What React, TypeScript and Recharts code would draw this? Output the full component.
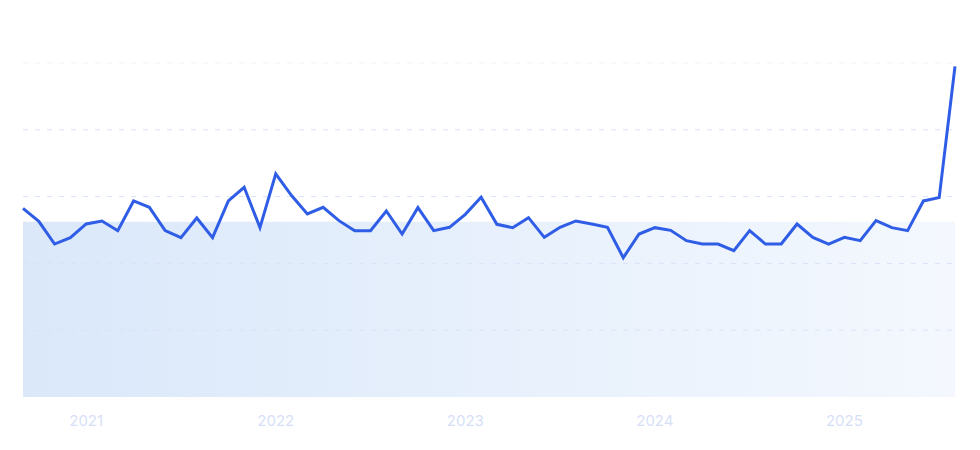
import React from 'react';
import { LineChart, Line, XAxis, YAxis, ReferenceArea, ReferenceLine } from 'recharts';

const months: string[] = [
  '2020-09', '2020-10', '2020-11', '2020-12',
  '2021-01', '2021-02', '2021-03', '2021-04', '2021-05', '2021-06', '2021-07', '2021-08', '2021-09', '2021-10', '2021-11', '2021-12',
  '2022-01', '2022-02', '2022-03', '2022-04', '2022-05', '2022-06', '2022-07', '2022-08', '2022-09', '2022-10', '2022-11', '2022-12',
  '2023-01', '2023-02', '2023-03', '2023-04', '2023-05', '2023-06', '2023-07', '2023-08', '2023-09', '2023-10', '2023-11', '2023-12',
  '2024-01', '2024-02', '2024-03', '2024-04', '2024-05', '2024-06', '2024-07', '2024-08', '2024-09', '2024-10', '2024-11', '2024-12',
  '2025-01', '2025-02', '2025-03', '2025-04', '2025-05', '2025-06', '2025-07', '2025-08',
];

const values: number[] = [
  56.5, 52.6, 45.8, 47.7,
  51.8, 52.7, 49.8, 58.7, 56.8, 49.8, 47.7, 53.6, 47.7, 58.7, 62.8, 50.7,
  66.8, 60.3, 54.8, 56.8, 52.8, 49.8, 49.8, 55.7, 48.8, 56.7, 49.8, 50.8,
  54.7, 59.8, 51.7, 50.7, 53.7, 47.8, 50.8, 52.7, 51.8, 50.8, 41.7, 48.8,
  50.7, 49.9, 46.8, 45.8, 45.8, 43.8, 49.8, 45.8, 45.8, 51.8, 47.8, 45.8,
  47.8, 46.8, 52.8, 50.7, 49.8, 58.7, 59.7, 99,
];

const yearTicks: string[] = ['2021-01', '2022-01', '2023-01', '2024-01', '2025-01'];
const gridValues: number[] = [20, 40, 60, 80, 100];

const data = months.map((m, i) => ({ idx: i, month: m, value: values[i] }));
const tickIdx = yearTicks.map((t) => months.indexOf(t));
const average = values.reduce((a, b) => a + b, 0) / values.length;

export default function App() {
  return (
    <div style={{ position: 'absolute', left: 0, top: 0, width: 980, height: 450, background: '#fff' }}>
      <LineChart width={980} height={450} data={data} margin={{ top: 63, right: 25, bottom: 23, left: 23 }}>
        <defs>
          <linearGradient id="avgFill" x1="0" y1="0" x2="1" y2="0">
            <stop offset="0%" stopColor="#dae8fa" />
            <stop offset="100%" stopColor="#f4f8fe" />
          </linearGradient>
        </defs>
        <XAxis
          dataKey="idx"
          type="number"
          domain={[0, months.length - 1]}
          ticks={tickIdx}
          tickFormatter={(v: number) => months[v].slice(0, 4)}
          axisLine={false}
          tickLine={false}
          tickSize={6}
          tickMargin={12}
          height={30}
          tick={{ fill: '#d7dff7', fontSize: 15, fontFamily: 'Inter' }}
        />
        <YAxis hide domain={[0, 100]} />
        <ReferenceArea x1={0} x2={months.length - 1} y1={0} y2={average} fill="url(#avgFill)" fillOpacity={1} stroke="none" />
        {gridValues.map((g) => (
          <ReferenceLine
            key={g}
            y={g}
            stroke={g === 100 ? '#edf1f9' : '#d9e2f8'}
            strokeDasharray="5 7"
            strokeWidth={1}
          />
        ))}
        <Line
          type="linear"
          dataKey="value"
          stroke="#2f5de6"
          strokeWidth={3}
          dot={false}
          activeDot={false}
          isAnimationActive={false}
        />
      </LineChart>
    </div>
  );
}
